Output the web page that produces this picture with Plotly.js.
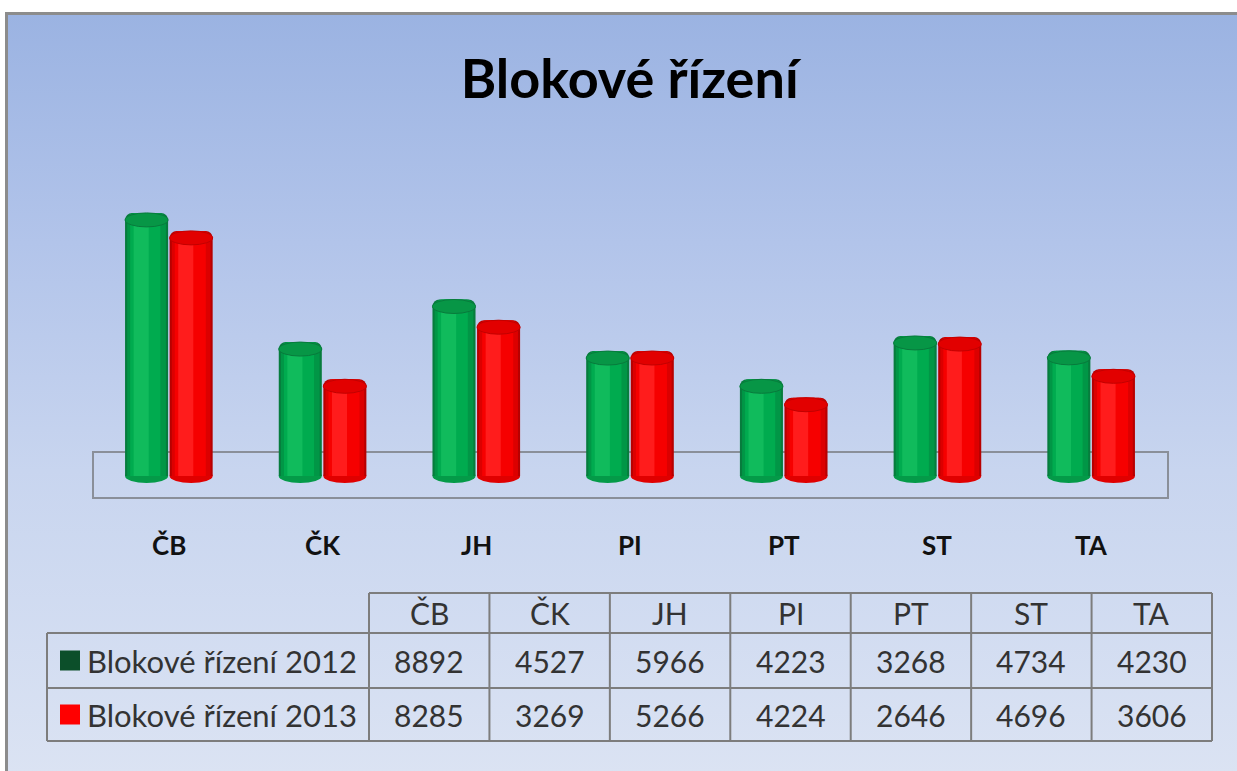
<!DOCTYPE html>
<html>
<head>
<meta charset="utf-8">
<script src="https://cdn.plot.ly/plotly-3.0.1.min.js"></script>
<style>
  html, body { margin: 0; padding: 0; background: #ffffff; width: 1237px; height: 771px; overflow: hidden; }
  #bg { position: absolute; left: 5px; top: 12px; width: 1232px; height: 759px;
        border-top: 3px solid #8c8c8c; border-left: 3px solid #8c8c8c;
        background: linear-gradient(to bottom, #9bb3e2 0%, #b2c4ea 30%, #c8d5ef 60%, #dbe3f3 100%); }
  #chart { position: absolute; left: 0; top: 0; width: 1237px; height: 771px; }
</style>
</head>
<body>
<div id="bg"></div>
<div id="chart"></div>
<script>
// ---- data ----
const titleText = 'Blokové řízení';
const categories = ['ČB', 'ČK', 'JH', 'PI', 'PT', 'ST', 'TA'];
const seriesNames = ['Blokové řízení 2012', 'Blokové řízení 2013'];
const values2012 = [8892, 4527, 5966, 4223, 3268, 4734, 4230];
const values2013 = [8285, 3269, 5266, 4224, 2646, 4696, 3606];

// ---- geometry / style ----
const W = 1237, H = 771;
const mL = 92, mR = 69, mT = 150, mB = 271;
const plotW = W - mL - mR, plotH = H - mT - mB;
const zeroPx = 476, unitsPerPx = 33.8;
const yMax = (zeroPx - mT) * unitsPerPx;
const yMin = -((H - mB) - zeroPx) * unitsPerPx;
const barW = 0.28;
const seriesOffsets = [-0.285, 0.005];
const capHalf = 7 * unitsPerPx;

const strips = [
  [[0, 1, '#077c3d'], [0.05, 0.95, '#019646'], [0.12, 0.82, '#00ab4f'], [0.2, 0.55, '#10bb5c']],
  [[0, 1, '#b80000'], [0.05, 0.95, '#dc0000'], [0.12, 0.84, '#f60000'], [0.2, 0.55, '#ff1c1c']]
];
const capFill = ['#079646', '#e20000'];
const capLine = ['#087a3c', '#c20000'];
const bottomFill = ['#049a48', '#e00000'];
const legendSwatch = ['#0c4f2a', '#ff0000'];

const seriesValues = [values2012, values2013];

function px2x(p) { return (p - mL) / plotW; }
function py2y(p) { return ((H - mB) - p) / plotH; }

const traces = [];
const shapes = [];
const annotations = [];

// floor
shapes.push({ type: 'rect', xref: 'paper', yref: 'paper', layer: 'below',
  x0: px2x(93), x1: px2x(1168), y0: py2y(498), y1: py2y(452),
  line: { color: '#8a8f99', width: 2 }, fillcolor: 'rgba(0,0,0,0)' });

seriesValues.forEach((vals, s) => {
  strips[s].forEach(st => {
    traces.push({
      type: 'bar', x: categories, y: vals,
      offset: seriesOffsets[s] + st[0] * barW,
      width: (st[1] - st[0]) * barW,
      marker: { color: st[2], line: { width: 0 }, cornerradius: 7 },
      hoverinfo: 'skip', showlegend: false
    });
  });
  vals.forEach((v, i) => {
    const x0 = i + seriesOffsets[s], x1 = x0 + barW;
    shapes.push({ type: 'circle', xref: 'x', yref: 'y', layer: 'below',
      x0: x0, x1: x1, y0: -capHalf, y1: capHalf,
      fillcolor: bottomFill[s], line: { width: 0 } });
    shapes.push({ type: 'circle', xref: 'x', yref: 'y', layer: 'above',
      x0: x0, x1: x1, y0: v - 2 * capHalf, y1: v,
      fillcolor: capFill[s], line: { color: capLine[s], width: 1 } });
  });
});

// category labels
categories.forEach((c, i) => {
  annotations.push({ x: i, xref: 'x', y: py2y(545), yref: 'paper', text: c, showarrow: false,
    xanchor: 'center', yanchor: 'middle',
    font: { family: 'Lato', size: 26, color: '#111111', weight: 'bold' } });
});

// data table
const tableLeft = 47, legendRight = 369, colW = 120.43;
const headTop = 593, rowLines = [633, 688, 741];
const tableRight = legendRight + colW * categories.length;
const gridColor = '#7d7d7d';
function hline(y, xa, xb) {
  shapes.push({ type: 'line', xref: 'paper', yref: 'paper', x0: px2x(xa), x1: px2x(xb), y0: py2y(y), y1: py2y(y),
    line: { color: gridColor, width: 2 } });
}
function vline(x, ya, yb) {
  shapes.push({ type: 'line', xref: 'paper', yref: 'paper', x0: px2x(x), x1: px2x(x), y0: py2y(ya), y1: py2y(yb),
    line: { color: gridColor, width: 2 } });
}
hline(headTop, legendRight, tableRight);
rowLines.forEach(y => hline(y, tableLeft, tableRight));
vline(tableLeft, rowLines[0], rowLines[2]);
for (let k = 0; k <= categories.length; k++) vline(legendRight + k * colW, headTop, rowLines[2]);

const tFont = { family: 'Lato', size: 30, color: '#333333' };
const lFont = { family: 'Lato', size: 31, color: '#333333' };
categories.forEach((c, k) => {
  annotations.push({ x: px2x(legendRight + (k + 0.5) * colW), xref: 'paper',
    y: py2y((headTop + rowLines[0]) / 2), yref: 'paper', text: c, showarrow: false,
    xanchor: 'center', yanchor: 'middle', font: tFont });
});
seriesValues.forEach((vals, s) => {
  const yc = (rowLines[s] + rowLines[s + 1]) / 2;
  shapes.push({ type: 'rect', xref: 'paper', yref: 'paper',
    x0: px2x(60), x1: px2x(80), y0: py2y(yc + 10), y1: py2y(yc - 10),
    fillcolor: legendSwatch[s], line: { width: 0 } });
  annotations.push({ x: px2x(85), xref: 'paper', y: py2y(yc), yref: 'paper', text: seriesNames[s],
    showarrow: false, xanchor: 'left', yanchor: 'middle', font: lFont });
  vals.forEach((v, k) => {
    annotations.push({ x: px2x(legendRight + (k + 0.5) * colW), xref: 'paper', y: py2y(yc), yref: 'paper',
      text: String(v), showarrow: false, xanchor: 'center', yanchor: 'middle', font: tFont });
  });
});

const layout = {
  width: W, height: H,
  margin: { l: mL, r: mR, t: mT, b: mB, pad: 0 },
  paper_bgcolor: 'rgba(0,0,0,0)', plot_bgcolor: 'rgba(0,0,0,0)',
  barmode: 'overlay',
  showlegend: false,
  title: { text: titleText, xref: 'container', yref: 'container', x: 0.509, y: 1 - 79 / H,
    xanchor: 'center', yanchor: 'middle',
    font: { family: 'Lato', size: 54, color: '#000000', weight: 'bold' } },
  xaxis: { type: 'category', range: [-0.5, categories.length - 0.5], visible: false, fixedrange: true },
  yaxis: { range: [yMin, yMax], visible: false, fixedrange: true },
  shapes: shapes,
  annotations: annotations
};

Plotly.newPlot('chart', traces, layout, { staticPlot: true, displayModeBar: false });
</script>
</body>
</html>
